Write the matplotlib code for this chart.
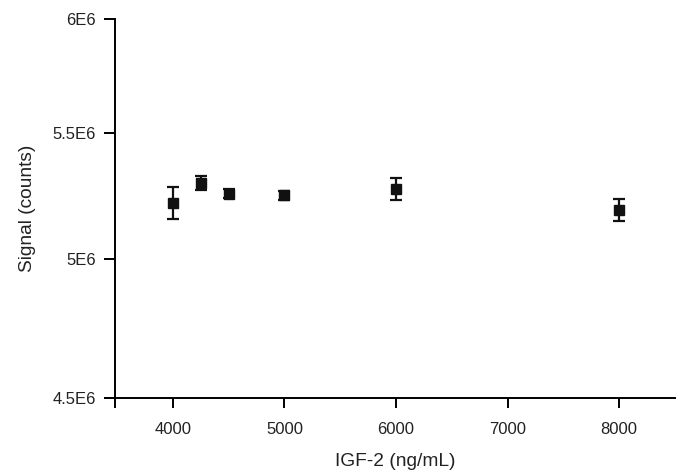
import numpy as np
import matplotlib
matplotlib.use("Agg")
import matplotlib.pyplot as plt

plt.rcParams['font.family'] = ['Liberation Sans', 'DejaVu Sans']

# Data
igf2 = [4000, 4250, 4500, 5000, 6000, 8000]
signal = [5.222e6, 5.302e6, 5.258e6, 5.252e6, 5.278e6, 5.194e6]
err = [0.062e6, 0.027e6, 0.018e6, 0.018e6, 0.045e6, 0.043e6]

y_ticks = [4.5e6, 5e6, 5.5e6, 6e6]
y_ticklabels = ['4.5E6', '5E6', '5.5E6', '6E6']
x_ticks = [4000, 5000, 6000, 7000, 8000]

# The original y axis is not evenly spaced: map tick values to their positions
scale_vals = np.array([4.4e6, 4.5e6, 5e6, 5.5e6, 6e6, 6.1e6])
scale_pos = np.array([-27.8, 0, 139, 265, 379, 401.8])


def fwd(v):
    return np.interp(v, scale_vals, scale_pos)


def inv(p):
    return np.interp(p, scale_pos, scale_vals)


fig = plt.figure(figsize=(6.76, 4.71), dpi=100)
ax = fig.add_axes([0.1701, 0.155, 0.8285, 0.805])
ax.set_yscale('function', functions=(fwd, inv))

ax.errorbar(igf2, signal, yerr=err, fmt='s', color='#111111', ms=6.5,
            elinewidth=1.6, capsize=4.5, capthick=1.6, zorder=3)

ax.set_xlim(3482, 8500)
ax.set_ylim(4.5e6, 6e6)
ax.set_xticks(x_ticks)
ax.set_yticks(y_ticks)
ax.set_yticklabels(y_ticklabels)
ax.minorticks_off()

for s in ['top', 'right']:
    ax.spines[s].set_visible(False)
for s in ['left', 'bottom']:
    ax.spines[s].set_linewidth(1.4)

ax.tick_params(axis='y', length=8, width=1.4, pad=6, labelsize=12,
               labelcolor='#222222')
ax.tick_params(axis='x', length=7, width=1.4, pad=10, labelsize=12,
               labelcolor='#222222')

# small overhangs where the two axes cross
ax.plot([0, 0], [0, -0.027], transform=ax.transAxes, color='black',
        lw=1.4, clip_on=False, solid_capstyle='butt')
ax.plot([-0.02, 0], [0, 0], transform=ax.transAxes, color='black',
        lw=1.4, clip_on=False, solid_capstyle='butt')

ax.set_xlabel('IGF-2 (ng/mL)', fontsize=13.8, labelpad=12, color='#222222')
ax.set_ylabel('Signal (counts)', fontsize=13.8, labelpad=12, color='#222222')

fig.savefig('out.png', dpi=100)
